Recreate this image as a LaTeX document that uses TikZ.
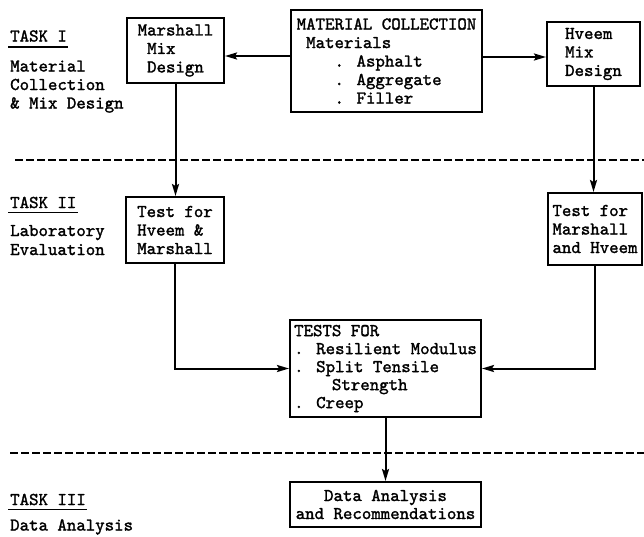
\documentclass[tikz,border=0pt]{standalone}
\usepackage{fontspec}
\newfontfamily\twfont{lmmono10-regular}[Extension=.otf, FakeBold=1.6]
\usetikzlibrary{arrows.meta}
\begin{document}
\begin{tikzpicture}[x=1pt,y=-1pt,
  tw/.style={font=\fontsize{18}{18.5}\twfont},
  box/.style={draw, line width=2pt, rectangle, inner sep=0pt, align=left, tw},
  lbl/.style={inner sep=0pt, anchor=base west, tw},
  conn/.style={line width=2pt, -{Stealth[length=12pt,width=7pt,inset=2pt]}},
  dashline/.style={line width=1.6pt, dash pattern=on 8pt off 3pt},
  uline/.style={line width=1.5pt}]
\useasboundingbox (0,0) rectangle (644,536);

% boxes
\node[box, minimum width=97pt, minimum height=65pt] (mmd) at (175.5,50.5)
  {Marshall\\\phantom{x}Mix\\\phantom{x}Design};
\node[box, minimum width=191pt, minimum height=102pt] (mc) at (386.5,61)
  {MATERIAL COLLECTION\\\phantom{x}Materials\\\phantom{xxxx}. Asphalt\\\phantom{xxxx}. Aggregate\\\phantom{xxxx}. Filler};
\node[box, minimum width=93pt, minimum height=64pt] (hmd) at (593.5,54)
  {Hveem\\Mix\\Design};
\node[box, minimum width=98pt, minimum height=66pt] (thm) at (175,230)
  {Test for\\Hveem \&\\Marshall};
\node[box, minimum width=94pt, minimum height=72pt] (tmh) at (595,229)
  {Test for\\Marshall\\and Hveem};
\node[box, minimum width=191pt, minimum height=97pt,
  font=\fontsize{18}{18}\twfont] (tests) at (385.5,368.5)
  {TESTS FOR\\. Resilient Modulus\\. Split Tensile\\\phantom{xxxx}Strength\\. Creep};
\node[box, align=center, minimum width=191pt, minimum height=45pt,
  font=\fontsize{18}{18}\twfont] (data) at (385.5,504.5)
  {Data Analysis\\and Recommendations};

% left labels
\node[lbl] (t1) at (10,41.5) {TASK I};
\node[lbl] (l1a) at (10,71.5) {Material};
\node[lbl] (l1b) at (10,90) {Collection};
\node[lbl] (l1c) at (10,108.5) {\& Mix Design};
\node[lbl] (t2) at (10,208) {TASK II};
\node[lbl] (l2a) at (10,236) {Laboratory};
\node[lbl] (l2b) at (10,255) {Evaluation};
\node[lbl] (t3) at (10,505) {TASK III};
\node[lbl] (l3a) at (10,530.5) {Data Analysis};

\draw[uline] ([xshift=-2pt,yshift=-5.5pt]t1.base west) -- ([xshift=1pt,yshift=-5.5pt]t1.base east);
\draw[uline] ([xshift=-2pt,yshift=-4.5pt]t2.base west) -- ([xshift=1pt,yshift=-4.5pt]t2.base east);
\draw[uline] ([xshift=-2pt,yshift=-4.5pt]t3.base west) -- ([xshift=1pt,yshift=-4.5pt]t3.base east);

% dashed separators
\coordinate (d1a) at (15,160);
\coordinate (d1b) at (644,160);
\coordinate (d2a) at (10,453);
\coordinate (d2b) at (644,453);
\draw[dashline] (d1a) -- (d1b);
\draw[dashline] (d2a) -- (d2b);

% connectors
\draw[conn] (mc.west |- 0,56) -- (mmd.east |- 0,56);
\draw[conn] (mc.east |- 0,57) -- (hmd.west |- 0,57);
\draw[conn] (mmd.south) -- (mmd.south |- thm.north);
\draw[conn] (hmd.south) -- (hmd.south |- tmh.north);
\draw[conn] (thm.south) |- (tests.west);
\draw[conn] (tmh.south) |- (tests.east);
\draw[conn] (tests.south) -- (data.north);
\end{tikzpicture}
\end{document}
